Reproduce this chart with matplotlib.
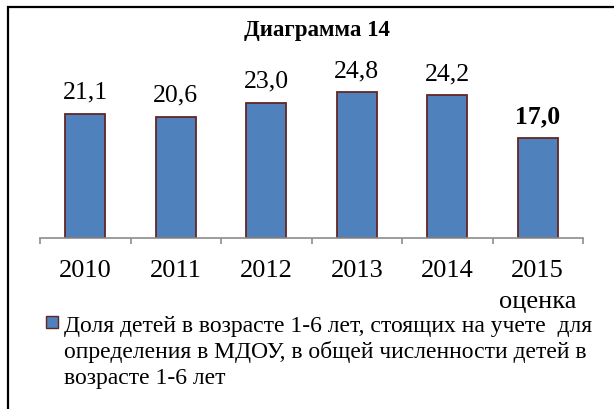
import matplotlib.pyplot as plt
from matplotlib.patches import Rectangle
from matplotlib import transforms

years = ['2010', '2011', '2012', '2013', '2014', '2015']
year_notes = ['', '', '', '', '', 'оценка']
values = [21.1, 20.6, 23.0, 24.8, 24.2, 17.0]
labels = ['21,1', '20,6', '23,0', '24,8', '24,2', '17,0']
legend_lines = ['Доля детей в возрасте 1-6 лет, стоящих на учете  для',
                'определения в МДОУ, в общей численности детей в',
                'возрасте 1-6 лет']

plt.rcParams['font.family'] = ['Liberation Serif', 'DejaVu Serif']

W, H = 614, 410
fig = plt.figure(figsize=(W / 100, H / 100), dpi=100)
ax = fig.add_axes([40 / W, 1 - 239 / H, 543 / W, 176.7 / H])

x = list(range(len(values)))
ax.bar(x, values, width=0.44, color='#4F81BD', edgecolor='#632523', linewidth=1.3)
for i, (v, lab) in enumerate(zip(values, labels)):
    bold = i == len(values) - 1
    ax.annotate(lab, (i, v), xytext=(0, 11.5), textcoords='offset points',
                ha='center', va='baseline', fontsize=18.5,
                fontweight='bold' if bold else 'normal')

ax.set_xlim(-0.5, len(values) - 0.5)
ax.set_ylim(0, 30)
ax.set_yticks([])
for s in ['top', 'right', 'left']:
    ax.spines[s].set_visible(False)
ax.spines['bottom'].set_color('#8c8c8c')
ax.spines['bottom'].set_linewidth(1.2)
ax.set_xticks([i - 0.5 for i in range(len(values) + 1)])
ax.set_xticklabels([])
ax.tick_params(axis='x', direction='out', length=4, width=1.2, color='#8c8c8c')

tr = transforms.blended_transform_factory(ax.transData, fig.transFigure)
for i, (y, note) in enumerate(zip(years, year_notes)):
    ax.text(i, 1 - 277 / H, y, transform=tr, ha='center', va='baseline', fontsize=19)
    if note:
        ax.text(i, 1 - 308 / H, note, transform=tr, ha='center', va='baseline', fontsize=19)

fig.text(317 / W, 1 - 36 / H, 'Диаграмма 14', ha='center', va='baseline',
         fontsize=16.5, fontweight='bold')

# legend
fig.patches.append(Rectangle((46 / W, 1 - 329 / H), 12 / W, 12 / H,
                             transform=fig.transFigure, facecolor='#4F81BD',
                             edgecolor='#632523', linewidth=1))
for k, line in enumerate(legend_lines):
    fig.text(64 / W, 1 - (332 + k * 26) / H, line, ha='left', va='baseline', fontsize=17)

# outer frame
fig.patches.append(Rectangle((8 / W, -0.1), 1.2, 1 - 8 / H + 0.1,
                             transform=fig.transFigure, facecolor='none',
                             edgecolor='black', linewidth=1.6))

fig.savefig('out.png', dpi=100)
